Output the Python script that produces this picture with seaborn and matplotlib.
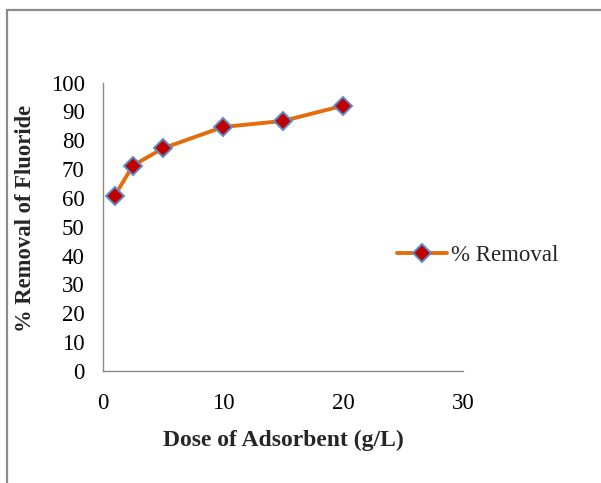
import matplotlib
matplotlib.use("Agg")
import matplotlib.pyplot as plt
import seaborn as sns
import pandas as pd
from matplotlib.patches import Rectangle

# Data
dose = [1, 2.5, 5, 10, 15, 20]
removal = [60.8, 71.2, 77.2, 84.6, 86.7, 92.0]
series_name = "% Removal"
x_ticks = [0, 10, 20, 30]
y_ticks = [0, 10, 20, 30, 40, 50, 60, 70, 80, 90, 100]

sns.set_theme(style="white")
plt.rcParams['font.family'] = ['Liberation Serif', 'DejaVu Serif']

df = pd.DataFrame({"dose": dose, "removal": removal})

fig = plt.figure(figsize=(6.01, 4.83), dpi=100)
ax = fig.add_axes([0.171, 0.232, 0.600, 0.597])

sns.lineplot(data=df, x="dose", y="removal", ax=ax, color="#E46C0A",
             linewidth=2.8, marker="D", markersize=9.5,
             markerfacecolor="#C00000", markeredgecolor="#5B8CC8",
             markeredgewidth=1.4, label=series_name)

ax.set_xlim(0, 30)
ax.set_ylim(0, 100)
ax.set_xticks(x_ticks)
ax.set_yticks(y_ticks)
ax.tick_params(axis='both', length=0, labelsize=16.5, colors='black')
ax.tick_params(axis='x', pad=16)
ax.tick_params(axis='y', pad=13)

for s in ['top', 'right']:
    ax.spines[s].set_visible(False)
for s in ['left', 'bottom']:
    ax.spines[s].set_color('#8c8c8c')
    ax.spines[s].set_linewidth(1.0)

ax.set_xlabel("Dose of Adsorbent (g/L)", fontsize=17, fontweight='bold', labelpad=11)
ax.set_ylabel("% Removal of Fluoride", fontsize=16.3, fontweight='bold')
ax.yaxis.set_label_coords(-0.185, 0.53)

leg = ax.legend(loc='center left', bbox_to_anchor=(0.816, 0.402), frameon=False,
                fontsize=16.5, handlelength=2.2, handletextpad=0.15,
                borderpad=0, borderaxespad=0)

fig.patches.append(Rectangle((7 / 601, -0.1), 1.2, 1.1 - 10 / 483,
                             transform=fig.transFigure, fill=False,
                             edgecolor='#8c8c8c', linewidth=1.6))

fig.savefig("out.png", dpi=100)
